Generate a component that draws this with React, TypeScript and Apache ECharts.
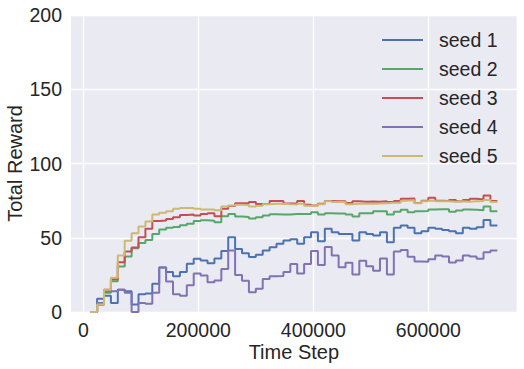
import React, { useEffect, useRef } from "react";
import * as echarts from "echarts";

const timeSteps = [
  12000, 24000, 36000, 48000, 60000, 72000, 84000, 96000, 108000, 120000,
  132000, 144000, 156000, 168000, 180000, 192000, 204000, 216000, 228000, 240000,
  252000, 264000, 276000, 288000, 300000, 312000, 324000, 336000, 348000, 360000,
  372000, 384000, 396000, 408000, 420000, 432000, 444000, 456000, 468000, 480000,
  492000, 504000, 516000, 528000, 540000, 552000, 564000, 576000, 588000, 600000,
  612000, 624000, 636000, 648000, 660000, 672000, 684000, 696000, 708000, 720000,
];

const seed1 = [
  0, 0, 9, 11, 6, 15, 14, 5, 12, 12.5,
  19, 30, 27, 24, 27, 32.5, 35.8, 34.7, 32.9, 36,
  41, 50.4, 42.5, 39.6, 37, 38.5, 41.4, 43.6, 45.9, 48.1,
  49, 45.9, 50.4, 53.7, 47.7, 56, 53.7, 52.6, 52.6, 48.1,
  53.7, 52.6, 51.5, 53.7, 47, 56.7, 58.2, 56.7, 53, 54.4,
  56.7, 56, 55.3, 54.4, 53, 56.7, 56, 57.1, 62, 58.2,
];
const seed2 = [
  0, 0, 5, 13, 20.7, 30.6, 37.4, 43, 46.5, 48.5,
  52.5, 55.5, 56.7, 57.3, 58.5, 59.4, 61.3, 61.8, 61.5, 60.5,
  64.5, 66, 64.3, 64, 63, 63.8, 65, 65.8, 65.6, 65.6,
  66, 66, 66, 67.2, 65.6, 66.5, 66.3, 66.3, 65.6, 64.3,
  66.5, 66.5, 67.9, 67.9, 65.6, 67.5, 68.8, 67.2, 67.9, 68,
  69, 69.2, 69.2, 67.5, 68.3, 69, 68.8, 68.5, 71, 67.9,
];
const seed3 = [
  0, 0, 5, 15, 22, 33.5, 40.7, 43.5, 50.4, 56,
  61.2, 61.6, 62.7, 63.8, 65.4, 65.6, 65, 66, 66.5, 64.5,
  69.5, 71.3, 73.3, 73.3, 74, 72.8, 72.8, 74.8, 74.8, 73,
  73, 74.8, 72.3, 71.7, 72.9, 74.8, 74.6, 74.6, 73.4, 74.5,
  74.2, 74.4, 74.2, 74.5, 74, 74.8, 76.2, 76.5, 73.4, 75,
  76.9, 75, 74.8, 75.5, 74.5, 75.5, 76.2, 75.8, 78.4, 74.8,
];
const seed4 = [
  0, 0, 6, 14, 14, 15, 13, 0, 6, 5.5,
  13, 30, 20.5, 12, 11, 18, 26, 24.6, 20, 21.2,
  29, 41.4, 25, 21, 13.3, 15.6, 22.3, 24, 24.3, 27,
  32.4, 26, 32.4, 41, 31.6, 43.7, 38, 30.2, 33.2, 25.2,
  34.5, 30.8, 27.7, 36, 25.3, 40.8, 41.8, 37.2, 34, 33.8,
  35.5, 38, 37.4, 33.3, 34.7, 38, 37.4, 35.8, 40.3, 41.4,
];
const seed5 = [
  0, 0, 5, 15, 23, 38, 48, 53, 57.5, 61,
  65.6, 66.8, 67.9, 69.5, 70, 70, 69.5, 69, 69, 68.5,
  71, 71.7, 72.2, 72, 71, 71.5, 72.5, 72.9, 72.9, 72.5,
  72.4, 72.9, 71.5, 71.3, 72.5, 74.6, 74, 74, 72.5, 72.9,
  72.9, 72.9, 73, 73.3, 73.5, 73.5, 75, 75.2, 73.3, 74.5,
  75, 74.5, 74.5, 74.3, 74.5, 74.2, 74.5, 74.8, 75.5, 74,
];

const seriesNames = ["seed 1", "seed 2", "seed 3", "seed 4", "seed 5"];
const seriesValues = [seed1, seed2, seed3, seed4, seed5];
const colors = ["#4C72B0", "#55A868", "#C44E52", "#8172B2", "#CCB974"];
const xTickValues = [0, 200000, 400000, 600000];

export default function App() {
  const ref = useRef<HTMLDivElement>(null);
  useEffect(() => {
    if (!ref.current) return;
    const chart = echarts.init(ref.current, undefined, { renderer: "svg" });
    const font = "Liberation Sans, Arial, sans-serif";
    const textColor = "#262626";
    chart.setOption({
      animation: false,
      backgroundColor: "#ffffff",
      textStyle: { fontFamily: font },
      color: colors,
      grid: {
        left: 71,
        right: 7.3,
        top: 15,
        bottom: 57,
        show: true,
        backgroundColor: "#EAEAF2",
        borderWidth: 0,
        containLabel: false,
        outerBoundsMode: "none",
      },
      legend: {
        orient: "vertical",
        left: 382,
        top: 30,
        padding: 0,
        itemWidth: 41,
        itemHeight: 2,
        itemGap: 9,
        icon: "rect",
        data: seriesNames,
        textStyle: {
          fontFamily: font,
          fontSize: 19.5,
          color: textColor,
          lineHeight: 20,
          padding: [0, 0, 0, 11],
        },
      },
      xAxis: {
        type: "value",
        min: -21400,
        max: 753700,
        name: "Time Step",
        nameLocation: "middle",
        nameGap: 30,
        nameMoveOverlap: false,
        nameTextStyle: { fontFamily: font, fontSize: 20, color: textColor },
        axisLine: { show: false },
        axisTick: { show: false, customValues: xTickValues },
        axisLabel: {
          customValues: xTickValues,
          fontFamily: font,
          fontSize: 19.5,
          color: textColor,
          margin: 8,
          formatter: (v: number) => String(v),
        },
        splitLine: { show: true, lineStyle: { color: "#ffffff", width: 1.3 } },
      },
      yAxis: {
        type: "value",
        min: 0,
        max: 200,
        interval: 50,
        name: "Total Reward",
        nameLocation: "middle",
        nameGap: 46,
        nameMoveOverlap: false,
        nameTextStyle: { fontFamily: font, fontSize: 20, color: textColor },
        axisLine: { show: false },
        axisTick: { show: false },
        axisLabel: {
          fontFamily: font,
          fontSize: 19.5,
          color: textColor,
          margin: 9,
        },
        splitLine: { show: true, lineStyle: { color: "#ffffff", width: 1.3 } },
      },
      series: seriesNames.map((name, s) => ({
        name,
        type: "line",
        step: "start",
        showSymbol: false,
        symbol: "none",
        data: timeSteps.map((t, i) => [t, seriesValues[s][i]]),
        lineStyle: { width: 2, color: colors[s] },
        itemStyle: { color: colors[s] },
      })),
    });
    return () => chart.dispose();
  }, []);
  return (
    <div
      ref={ref}
      style={{ position: "fixed", left: 0, top: 0, width: 524, height: 369 }}
    />
  );
}
